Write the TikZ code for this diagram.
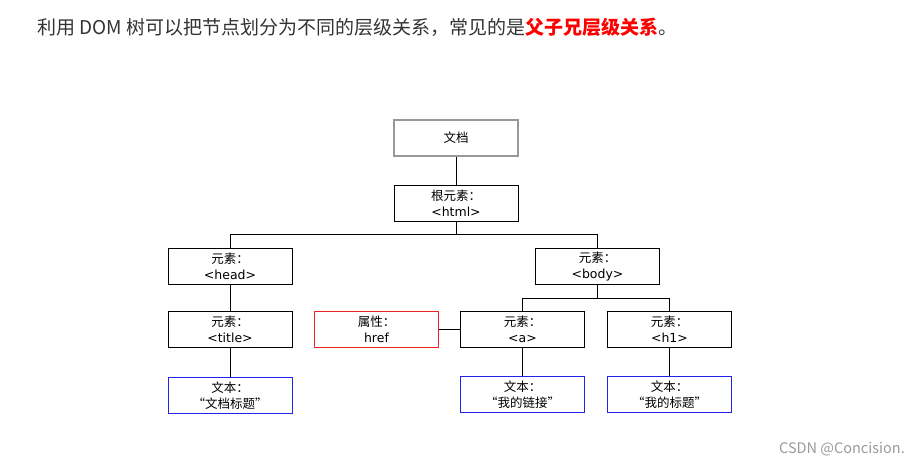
\documentclass[tikz,border=0pt]{standalone}
\usepackage{fontspec}
\setmainfont{Noto Sans CJK SC}
\newfontfamily\tagfont{DejaVu Sans}
\usetikzlibrary{positioning}

\definecolor{leadtext}{HTML}{333333}
\definecolor{markred}{HTML}{FF0000}
\definecolor{docgray}{HTML}{999999}
\definecolor{attrred}{HTML}{EE2222}
\definecolor{textblue}{HTML}{2222EE}
\definecolor{markgray}{HTML}{9A9A9A}

\begin{document}
\begin{tikzpicture}[x=1pt,y=-1pt]

        % Define block styles
        \tikzset{
          treebox/.style={rectangle, draw=black, line width=0.9pt, fill=white, minimum width=124pt, minimum height=36pt, inner sep=0pt, align=center, font=\fontsize{12.5}{16}\selectfont},
          docbox/.style={treebox, draw=docgray, line width=1.8pt},
          attrbox/.style={treebox, draw=attrred},
          textbox/.style={treebox, draw=textblue},
          link/.style={draw=black, line width=0.8pt}
        }

        \useasboundingbox (0,0) rectangle (918,467);

        % Caption
        \node (lead) [anchor=west, inner sep=0pt, text=leadtext, font=\fontsize{19}{23}\selectfont] at (37,27)
          {利用 DOM 树可以把节点划分为不同的层级关系，常见的是{\color{markred}\bfseries 父子兄层级关系}。};

        % Components
        \node (doc) [docbox] at (456,138) {文档};
        \node (root) [treebox, below=28pt of doc] {根元素：\\{\tagfont <html>}};
        \node (head) [treebox] at (230,266.5) {元素：\\{\tagfont <head>}};
        \node (body) [treebox] at (597.5,266.5) {元素：\\{\tagfont <body>}};
        \node (title) [treebox, below=26pt of head] {元素：\\{\tagfont <title>}};
        \node (a) [treebox] at (522.5,329) {元素：\\{\tagfont <a>}};
        \node (h1) [treebox] at (669.5,329) {元素：\\{\tagfont <h1>}};
        \node (href) [attrbox] at (376.5,329) {属性：\\{\tagfont href}};
        \node (titletext) [textbox, below=29pt of title] {文本：\\“文档标题”};
        \node (atext) [textbox, below=29pt of a] {文本：\\“我的链接”};
        \node (h1text) [textbox, below=29pt of h1] {文本：\\“我的标题”};

        % Connectors
        \draw [link] (doc) -- (root);
        \draw [link] (root.south) -- ++(0,13) -| (head.north);
        \draw [link] (root.south) -- ++(0,13) -| (body.north);
        \draw [link] (head) -- (title);
        \draw [link] (title) -- (titletext);
        \draw [link] (body.south) -- ++(0,13) -| (a.north);
        \draw [link] (body.south) -- ++(0,13) -| (h1.north);
        \draw [link] (href) -- (a);
        \draw [link] (a) -- (atext);
        \draw [link] (h1) -- (h1text);

        % Watermark
        \node (mark) [anchor=east, inner sep=0pt, text=markgray, font=\fontsize{14.5}{17}\selectfont] at (905,449) {CSDN @Concision.};

\end{tikzpicture}
\end{document}
